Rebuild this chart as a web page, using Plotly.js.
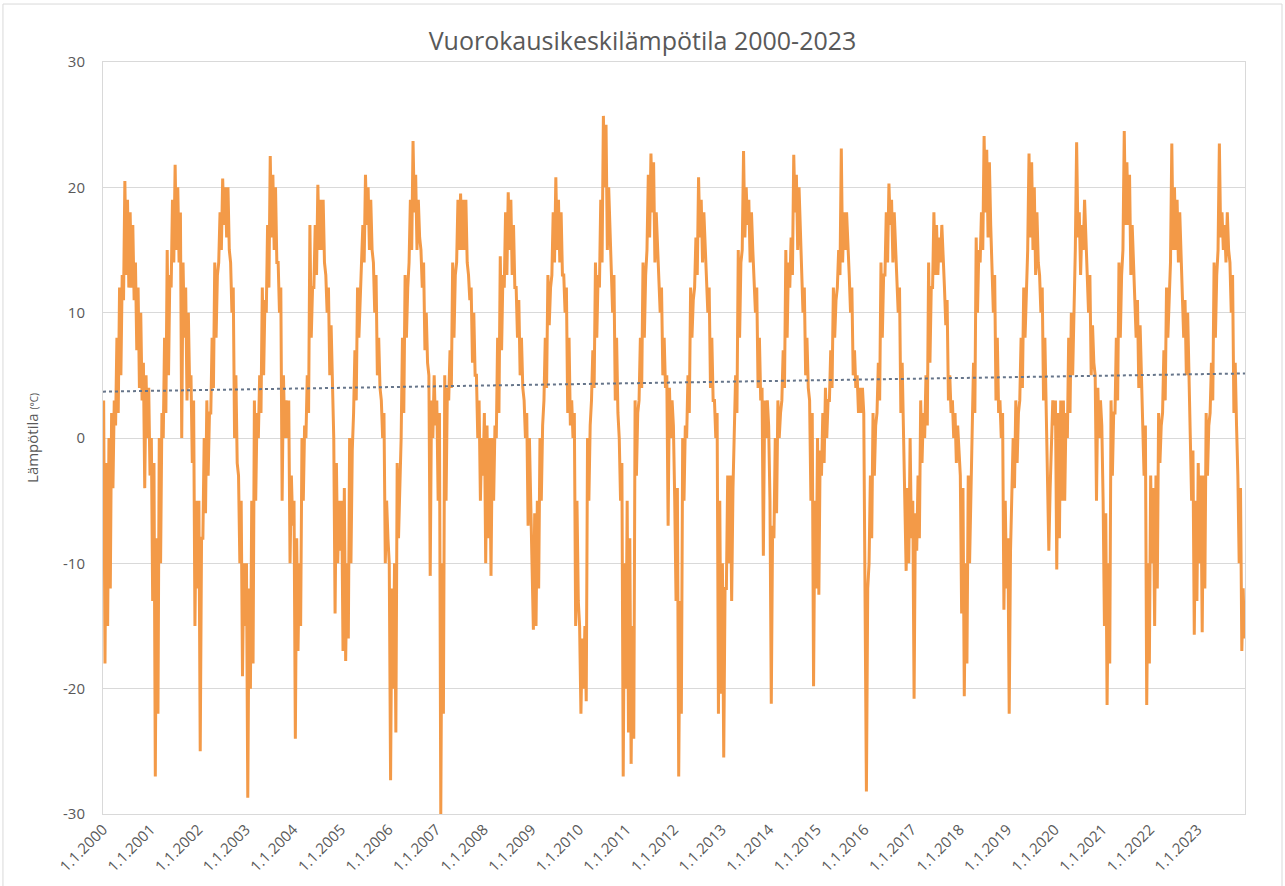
<!DOCTYPE html>
<html>
<head>
<meta charset="utf-8">
<script src="https://cdn.plot.ly/plotly-3.0.1.min.js"></script>
<style>html,body{margin:0;padding:0;background:#fff;}#chart{width:1285px;height:886px;}</style>
</head>
<body>
<div id="chart"></div>
<script>
// Daily mean temperature (°C), ~3 readings per month per year
const t2000 = [3,-18,-2, -15,0,-12, 2,-4,3, 1,8,2, 12,5,13, 11,20.5,13, 19,12,18, 12,17,11, 14,7,12, 4,10,3, 6,-4,5, 0,4,-3];
const t2001 = [0,-13,-2, -27,-8,-22, 0,-10,2, 0,8,2, 15,5,13, 12,19,14, 21.8,15,20, 14,18,0, 14,8,12, 3,10,4, 5,-2,3, -15,-5,-12];
const t2002 = [-5,-25,-8, -8,0,-6, 3,-3,2, 2,8,4, 14,8,13, 14,18,15, 20.7,17,20, 16,20,15, 14,10,12, 0,5,-2, -3,-10,-5, -19,-10,-15];
const t2003 = [-10,-28.7,-12, -20,-5,-18, 3,-5,2, 0,5,2, 12,5,11, 10,17,12, 22.5,16,21, 15,20,14, 14,10,12, -5,5,0, 3,0,3, -10,-3,-7];
const t2004 = [-5,-24,-8, -17,-10,-15, 0,-5,1, 0,5,2, 17,8,12, 12,17,13, 20.2,15,19, 15,19,14, 13,10,12, 5,9,4, 0,-14,-2, -10,-5,-9];
const t2005 = [-5,-17,-4, -17.8,-10,-16, 0,-10,-1, 2,7,3, 12,8,11, 13,17,14, 21,17,20, 15,19,15, 14,10,13, 5,8,4, 3,0,2, -10,-5,-8];
const t2006 = [-10,-27.3,-12, -20,-10,-23.5, -2,-8,-3, 0,8,2, 13,8,12, 14,19,15, 23.7,18,21, 15,19,16, 15,12,14, 7,10,6, 5,-11,3, 0,5,1];
const t2007 = [3,-5,2, -30,-10,-22, 5,-5,4, 3,7,4, 14,8,13, 14,19,15, 19.5,15,19, 15,19,14, 13,11,12, 6,10,5, 5,0,3, -5,0,-3];
const t2008 = [2,-10,1, -8,0,-11, 0,-5,1, 0,8,2, 14.5,7,13, 12,18,13, 19.6,15,19, 13,17,12, 12,8,11, 5,8,4, 3,0,2, -7,0,-5];
const t2009 = [-8,-15.3,-6, -15,-5,-12, 0,-5,1, 3,8,4, 13,9,12, 13,18,14, 20.8,15,19, 14,18,13, 13,10,12, 2,8,1, 3,0,2, -15,-5,-13];
const t2010 = [-15,-22,-16, -20,-15,-21, 0,-5,1, 3,7,4, 14,8,13, 12,19,14, 25.7,20,25, 15,20,16, 14,10,13, 3,8,2, 0,-5,-2, -27,-10,-20];
const t2011 = [-5,-23.5,-8, -26,-15,-24, 3,-3,2, 3,8,4, 14,8,13, 15,21,16, 22.7,18,22, 14,18,15, 13,10,12, 5,8,4, 5,-7,4, 0,3,1];
const t2012 = [-5,-13,-4, -27,-13,-22, 0,-5,1, 0,5,2, 12,8,11, 12,16,13, 20.8,16,19, 14,18,15, 13,10,12, 4,8,3, 3,0,2, -22,-5,-20.4];
const t2013 = [-10,-25.5,-12, -12,-3,-10, -3,-13,-4, 0,5,2, 15,8,14, 15,22.9,16, 20,17,19, 14,18,15, 13,10,12, 4,8,3, 4,-9.4,3, 0,3,1];
const t2014 = [-5,-21.2,-7, -8,0,-6, 3,0,2, 3,7,4, 15,8,14, 12,16,13, 22.6,18,21, 15,20,16, 13,10,12, 5,8,4, 3,-5,2, -19.8,-5,-12];
const t2015 = [0,-12.5,-1, -3,2,-2, 4,0,3, 3,7,4, 12,8,11, 12,15,13, 23.1,14,18, 15,18,16, 13,10,12, 5,7,4, 5,2,4, 2,4,2];
const t2016 = [-10,-28.2,-12, -10,-3,-8, 2,-3,1, 2,6,3, 14,8,13, 13,18,14, 20.3,17,19, 14,18,15, 13,10,12, 2,6,1, -3,-10.6,-4, -10,0,-8];
const t2017 = [-5,-20.8,-6, -9,-3,-8, 3,-2,2, 0,5,1, 14,6,12, 12,18,13, 17,13,16, 14,17,15, 12,9,11, 3,5,2, 3,0,2, -2,1,-1];
const t2018 = [-3,-14,-4, -20.6,-10,-18, -3,-10,-4, 0,6,2, 16,10,15, 14,18,15, 24.1,18,23, 16,22,17, 14,10,13, 3,8,2, 3,0,2, -13.7,-5,-12];
const t2019 = [-8,-22,-9, -5,0,-4, 3,-2,2, 3,8,4, 12,8,11, 15,22.7,16, 22,15,20, 13,18,14, 13,10,12, 3,8,2, -3,-9,-4, 0,3,1];
const t2020 = [3,-10.5,2, -8,3,-5, 3,-5,2, 0,8,2, 10,5,9, 15,23.6,16, 18,13,17, 15,19,16, 14,10,13, 5,9,6, 5,-5,4, 0,3,1];
const t2021 = [-5,-15,-6, -21.3,-10,-18, 3,-3,2, 2,8,3, 14,8,13, 15,24.5,17, 22,17,21, 13,17,14, 12,8,11, 4,9,5, 2,-3,1, -21.3,-10,-18];
const t2022 = [-3,-10,-4, -15,-3,-12, 2,-2,1, 2,7,3, 12,8,11, 14,23.5,15, 20,15,19, 14,18,15, 12,8,11, 5,10,6, 0,-5,-1, -15.7,-5,-13];
const t2023 = [-2,-10,-3, -15.5,-3,-12, 2,-3,1, 2,6,3, 14,8,13, 15,23.5,16, 18,15,17, 14,18,15, 14,10,13, 2,6,1, -3,-10,-4, -17,-12,-16];

const years = [2000,2001,2002,2003,2004,2005,2006,2007,2008,2009,2010,2011,2012,2013,2014,2015,2016,2017,2018,2019,2020,2021,2022,2023];
const yearSeries = [t2000,t2001,t2002,t2003,t2004,t2005,t2006,t2007,t2008,t2009,t2010,t2011,t2012,t2013,t2014,t2015,t2016,t2017,t2018,t2019,t2020,t2021,t2022,t2023];
const tickLabels = years.map(y => '1.1.' + y);

// Linear trendline end values (°C)
const trendStart = 3.7;
const trendEnd = 5.15;

const xs = [], ys = [];
years.forEach((yr, k) => {
  const vals = yearSeries[k];
  const a = Date.UTC(yr, 0, 1), b = Date.UTC(yr + 1, 0, 1);
  vals.forEach((v, i) => {
    const t = a + (i + 0.5) / vals.length * (b - a);
    xs.push(new Date(t).toISOString().slice(0, 19).replace('T', ' '));
    ys.push(v);
  });
});

const font = "'Open Sans', 'Liberation Sans', sans-serif";
const grey = '#595959';

const traces = [
  {
    x: xs, y: ys, type: 'scatter', mode: 'lines',
    line: {color: '#F39A48', width: 3},
    hoverinfo: 'skip', showlegend: false
  },
  {
    x: ['2000-01-01', '2023-12-31'], y: [trendStart, trendEnd],
    type: 'scatter', mode: 'lines',
    line: {color: '#66758A', width: 2, dash: 'dot'},
    hoverinfo: 'skip', showlegend: false
  }
];

const layout = {
  width: 1285, height: 886,
  margin: {l: 103, r: 40, t: 62, b: 72},
  paper_bgcolor: '#ffffff', plot_bgcolor: '#ffffff',
  font: {family: font, color: grey},
  title: {text: 'Vuorokausikeskilämpötila 2000-2023', font: {family: font, size: 25, color: grey}, x: 0.5, xanchor: 'center', y: 0.953, yanchor: 'middle'},
  xaxis: {
    type: 'date', range: ['2000-01-01', '2023-12-31'],
    tickmode: 'array', tickvals: years.map(y => y + '-01-01'), ticktext: tickLabels,
    tickangle: -45, tickfont: {size: 15, color: grey},
    showgrid: false, zeroline: false, ticks: '',
    showline: true, linecolor: '#D9D9D9', linewidth: 1, mirror: true
  },
  yaxis: {
    range: [-30, 30], tickmode: 'array',
    tickvals: [-30, -20, -10, 0, 10, 20, 30], ticktext: ['-30', '-20', '-10', '0', '10', '20', '30'],
    tickfont: {size: 15, color: grey},
    showgrid: true, gridcolor: '#D9D9D9', gridwidth: 1, zeroline: false, ticks: '',
    ticklen: 0, ticklabelstandoff: 14,
    showline: true, linecolor: '#D9D9D9', linewidth: 1, mirror: true,
    title: {text: "Lämpötila <span style='font-size:10px'>(°C)</span>", font: {size: 15, color: grey}, standoff: 20}
  },
  shapes: [{
    type: 'rect', xref: 'paper', yref: 'paper', layer: 'below',
    x0: -0.0876, x1: 1.0324, y0: -0.12, y1: 1.0771,
    line: {color: '#D9D9D9', width: 1}, fillcolor: 'rgba(0,0,0,0)'
  }]
};

Plotly.newPlot('chart', traces, layout, {displayModeBar: false, staticPlot: true});
</script>
</body>
</html>
